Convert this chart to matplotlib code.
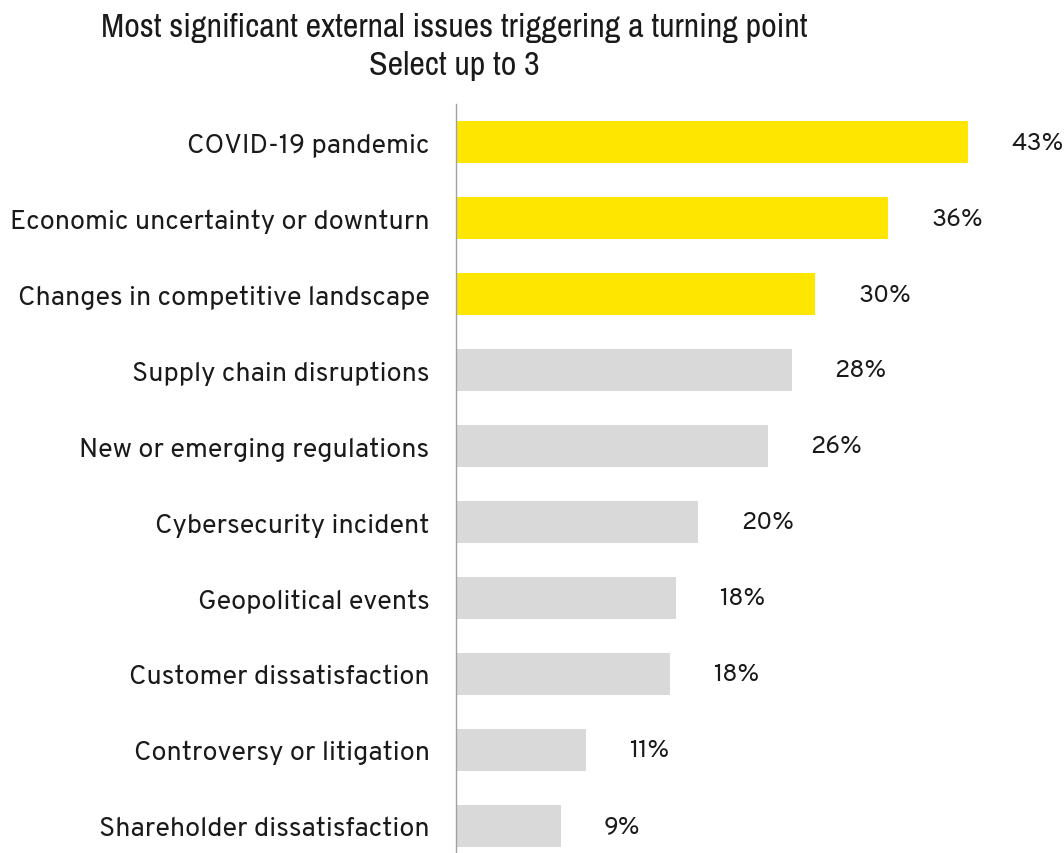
import matplotlib
matplotlib.use("Agg")
import matplotlib.pyplot as plt

categories = [
    "COVID-19 pandemic",
    "Economic uncertainty or downturn",
    "Changes in competitive landscape",
    "Supply chain disruptions",
    "New or emerging regulations",
    "Cybersecurity incident",
    "Geopolitical events",
    "Customer dissatisfaction",
    "Controversy or litigation",
    "Shareholder dissatisfaction",
]
values = [42.9, 36.2, 30.1, 28.1, 26.1, 20.3, 18.4, 17.9, 10.9, 8.8]
highlighted = [True, True, True, False, False, False, False, False, False, False]
title_lines = ["Most significant external issues triggering a turning point", "Select up to 3"]

YELLOW = "#FFE600"
GREY = "#D9D9D9"
TEXT = "#1a1a1a"
LABEL_FONT = ["Overpass", "Lato", "DejaVu Sans"]
TITLE_FONT = ["Liberation Sans Narrow", "Archivo Narrow", "DejaVu Sans"]

fig = plt.figure(figsize=(10.64, 8.54), dpi=100)
ax = fig.add_axes([456 / 1064, 0.0, 1 - 456 / 1064 - 11 / 1064, 749 / 854])

ypos = list(range(len(categories)))
colors = [YELLOW if h else GREY for h in highlighted]
ax.barh(ypos, values, height=0.553, color=colors, zorder=2)

ax.set_xlim(0, 50)
ax.set_ylim(9.36, -0.5)

for y, v in zip(ypos, values):
    ax.text(v + 3.6, y, f"{v:.0f}%", va="center", ha="left",
            fontsize=18, family=LABEL_FONT, color=TEXT)

ax.set_yticks(ypos)
ax.set_yticklabels(categories, fontsize=19.5, family=LABEL_FONT, color=TEXT)
ax.tick_params(axis="y", length=0, pad=19)
ax.set_xticks([])

for side in ["top", "right", "bottom"]:
    ax.spines[side].set_visible(False)
ax.spines["left"].set_color("#a0a0a8")
ax.spines["left"].set_linewidth(1.0)

for line, ypix in zip(title_lines, [28, 66]):
    fig.text(454 / 1064, 1 - ypix / 854, line, ha="center", va="center",
             fontsize=24.5, family=TITLE_FONT, fontweight="light", color=TEXT)

fig.savefig("out.png", dpi=100)
